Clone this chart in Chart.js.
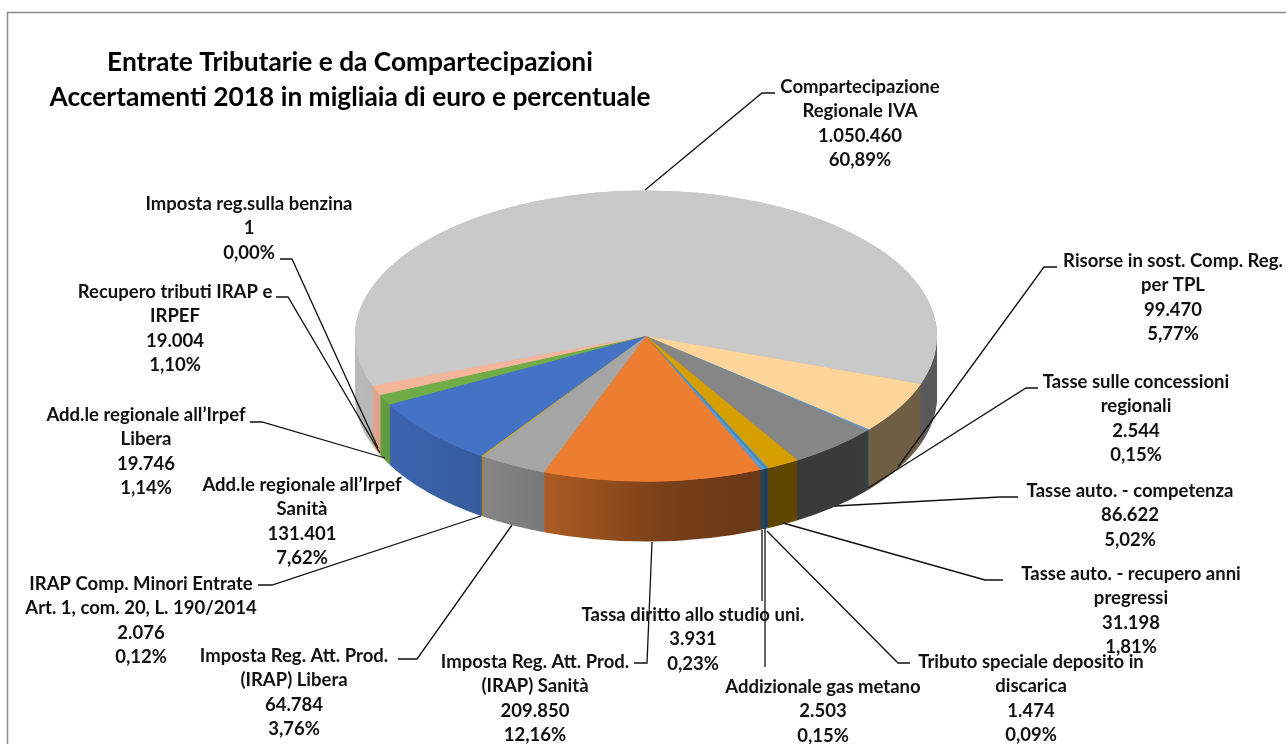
<!DOCTYPE html>
<html>
<head>
<meta charset="utf-8">
<title>Entrate Tributarie e da Compartecipazioni</title>
<script src="https://cdn.jsdelivr.net/npm/chart.js@4"></script>
<style>
    html, body { margin: 0; padding: 0; background: #fff; }
    #wrap { position: relative; width: 1286px; height: 744px; overflow: hidden; }
</style>
</head>
<body>
<div id="wrap"><canvas id="pie" width="1286" height="744"></canvas></div>
<script>
const titleLines = ['Entrate Tributarie e da Compartecipazioni', 'Accertamenti 2018 in migliaia di euro e percentuale'];

const categories = [
    ['Compartecipazione', 'Regionale IVA'],
    ['Risorse in sost. Comp. Reg.', 'per TPL'],
    ['Tasse sulle concessioni', 'regionali'],
    ['Tasse auto. - competenza'],
    ['Tasse auto. - recupero anni', 'pregressi'],
    ['Tributo speciale deposito in', 'discarica'],
    ['Addizionale gas metano'],
    ['Tassa diritto allo studio uni.'],
    ['Imposta Reg. Att. Prod.', '(IRAP) Sanità'],
    ['Imposta Reg. Att. Prod.', '(IRAP) Libera'],
    ['IRAP Comp. Minori Entrate', 'Art. 1, com. 20, L. 190/2014'],
    ['Add.le regionale all’Irpef', 'Sanità'],
    ['Add.le regionale all’Irpef', 'Libera'],
    ['Recupero tributi IRAP e', 'IRPEF'],
    ['Imposta reg.sulla benzina']
];
const values = [1050460, 99470, 2544, 86622, 31198, 1474, 2503, 3931, 209850, 64784, 2076, 131401, 19746, 19004, 1];
const colors = ['#C9C9C9', '#FDD59B', '#5B9BD5', '#868686', '#D69F00', '#5B9BD5', '#4B8BA8', '#5B9BD5',
    '#ED7D31', '#A5A5A5', '#CFA92F', '#4472C4', '#70AD47', '#F4B59B', '#9E480E'];

// label placement: centre x and first baseline, then leader polyline
const labelX = [860, 1173, 1136, 1130, 1131, 1031, 823, 693, 535, 294, 141, 302, 146, 175, 249];
const labelY = [93, 267, 388, 497, 580, 668, 693, 621, 668, 662, 590, 491, 421, 298, 210];
const leaders = [
    [[645, 190], [762, 93], [775, 93]],
    [[898, 467], [1044, 267], [1057, 267]],
    [[868, 488], [1026, 388], [1038, 388]],
    [[835, 506], [1000, 497], [1018, 497]],
    [[783, 523], [985, 580], [1003, 580]],
    [[767, 531], [898, 663], [910, 663]],
    [[765, 528], [765, 667]],
    [[762, 530], [762, 601]],
    [[652, 542], [647, 663], [634, 663]],
    [[512, 525], [417, 659], [398, 659]],
    [[481, 516], [272, 585], [258, 585]],
    [],
    [[385, 458], [262, 422], [250, 422]],
    [[380, 453], [288, 297], [276, 297]],
    [[378, 448], [292, 259], [280, 259]]
];

const squash = 0.5;
const depth = 60;
const total = values.reduce((a, b) => a + b, 0);
const fmtValue = v => String(v).replace(/\B(?=(\d{3})+$)/g, '.');
const fmtPct = v => (v / total * 100).toFixed(2).replace('.', ',') + '%';

// side wall gets darker going left to right
const sideShade = [[355, 0.93], [440, 0.85], [510, 0.78], [550, 0.72], [660, 0.52], [760, 0.44], [830, 0.44], [937, 0.45]];

function sideGradient(ctx, hex) {
    const grad = ctx.createLinearGradient(355, 0, 937, 0);
    const r = parseInt(hex.slice(1, 3), 16), g = parseInt(hex.slice(3, 5), 16), b = parseInt(hex.slice(5, 7), 16);
    sideShade.forEach(([x, f]) => {
        grad.addColorStop((x - 355) / 582, `rgb(${r * f | 0},${g * f | 0},${b * f | 0})`);
    });
    return grad;
}

const tiltPlugin = {
    id: 'tilt',
    beforeDatasetDraw(chart) {
        const ctx = chart.ctx;
        const arcs = chart.getDatasetMeta(0).data;
        const cy = arcs[0].y;
        const sides = colors.map(c => sideGradient(ctx, c));
        // stack of flattened discs for the wall
        for (let dy = depth; dy > 0; dy--) {
            ctx.save();
            ctx.translate(0, cy + dy);
            ctx.scale(1, squash);
            ctx.translate(0, -cy);
            arcs.forEach((arc, i) => {
                const saved = arc.options;
                arc.options = Object.create(saved, { backgroundColor: { value: sides[i] } });
                arc.draw(ctx);
                arc.options = saved;
            });
            ctx.restore();
        }
        ctx.save();
        ctx.translate(0, cy);
        ctx.scale(1, squash);
        ctx.translate(0, -cy);
        arcs.forEach(arc => arc.draw(ctx));
    },
    afterDatasetDraw(chart) {
        chart.ctx.restore();
    },
    afterDraw(chart) {
        const ctx = chart.ctx;
        ctx.save();
        // chart frame: only top and left show in the crop
        ctx.strokeStyle = '#8c8c8c';
        ctx.lineWidth = 1.5;
        ctx.beginPath();
        ctx.moveTo(7.5, 744);
        ctx.lineTo(7.5, 12.5);
        ctx.lineTo(1286, 12.5);
        ctx.stroke();

        ctx.strokeStyle = '#111';
        ctx.lineWidth = 1.3;
        leaders.forEach(pts => {
            if (!pts.length) return;
            ctx.beginPath();
            pts.forEach((p, i) => i ? ctx.lineTo(p[0], p[1]) : ctx.moveTo(p[0], p[1]));
            ctx.stroke();
        });

        ctx.fillStyle = '#111';
        ctx.textAlign = 'center';
        ctx.textBaseline = 'alphabetic';
        ctx.font = 'bold 18.5px Lato';
        categories.forEach((name, i) => {
            const lines = name.concat([fmtValue(values[i]), fmtPct(values[i])]);
            lines.forEach((line, j) => ctx.fillText(line, labelX[i], labelY[i] + j * 24.4));
        });

        ctx.fillStyle = '#000';
        ctx.font = 'bold 26.3px Lato';
        titleLines.forEach((line, j) => ctx.fillText(line, 350, 71 + j * 35));
        ctx.restore();
    }
};

new Chart(document.getElementById('pie'), {
    type: 'pie',
    data: {
        labels: categories.map(c => c.join(' ')),
        datasets: [{
            data: values,
            backgroundColor: colors,
            borderWidth: 0,
            clip: false
        }]
    },
    options: {
        responsive: false,
        animation: false,
        rotation: 250,
        radius: 291,
        layout: { padding: { left: 6, bottom: 72 } },
        plugins: { legend: { display: false }, tooltip: { enabled: false } }
    },
    plugins: [tiltPlugin]
});
</script>
</body>
</html>
